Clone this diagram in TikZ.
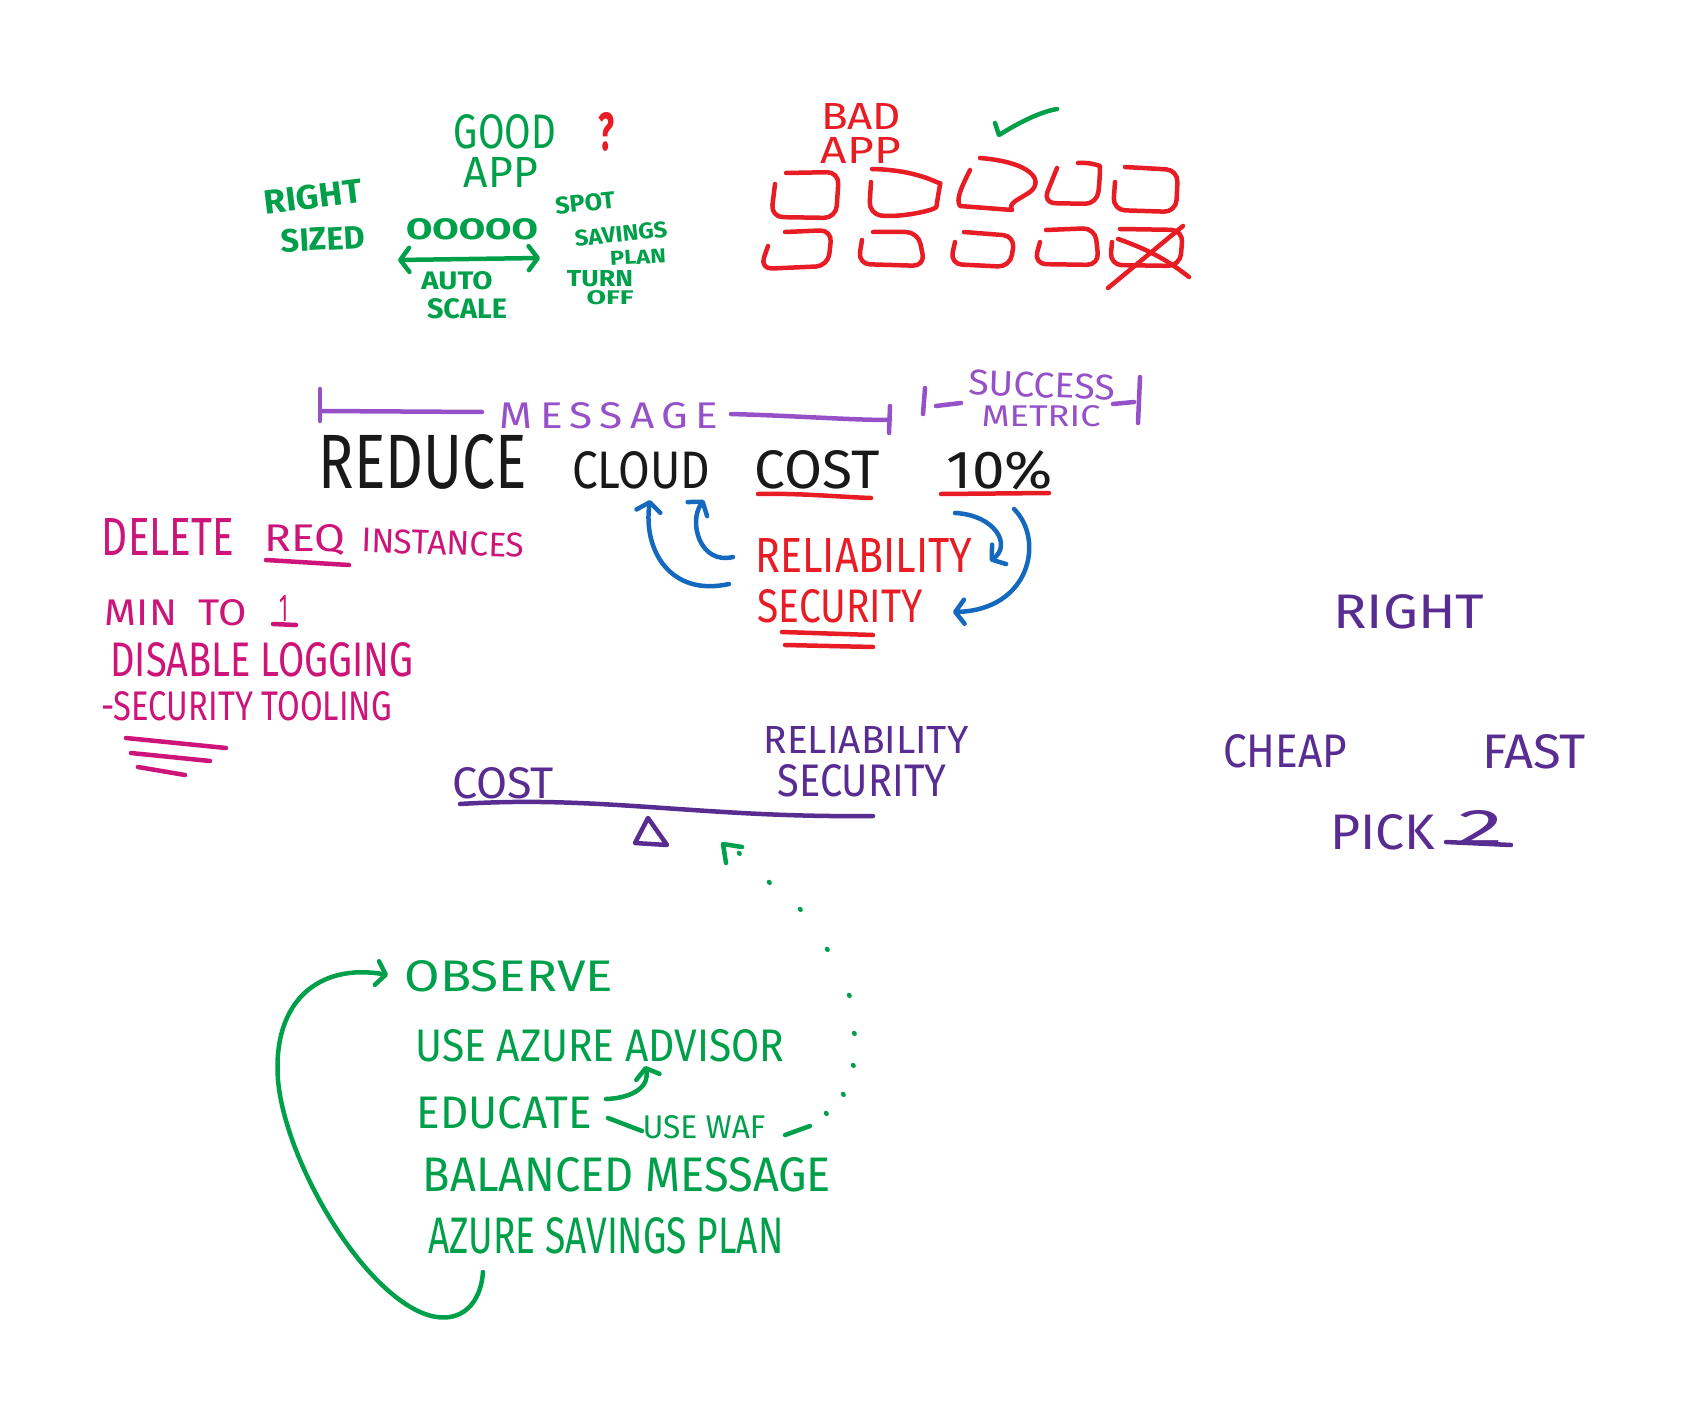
\documentclass[tikz,border=0pt]{standalone}
\usepackage{fontspec}
\setmainfont{Fira Sans}
\usepackage{graphicx}
\usetikzlibrary{arrows.meta}
\definecolor{mkgreen}{RGB}{0,160,75}
\definecolor{mkred}{RGB}{232,28,36}
\definecolor{mkviolet}{RGB}{150,80,200}
\definecolor{mkpurple}{RGB}{88,44,145}
\definecolor{mkmagenta}{RGB}{205,20,120}
\definecolor{mkblue}{RGB}{20,105,190}
\definecolor{mkblack}{RGB}{25,25,25}
\newcommand{\hw}[3]{\resizebox{#1pt}{#2pt}{#3}}
\tikzset{
  txt/.style={inner sep=0pt, outer sep=0pt},
  ink/.style={line width=4.5pt, line cap=round, line join=round},
  gink/.style={ink, draw=mkgreen},
  rink/.style={ink, draw=mkred},
  vink/.style={ink, draw=mkviolet},
  pink/.style={ink, draw=mkpurple},
  mink/.style={ink, draw=mkmagenta},
  bink/.style={ink, draw=mkblue},
  barbend/.style={-{Straight Barb[length=9pt,width=24pt,round]}},
  barbboth/.style={{Straight Barb[length=9pt,width=24pt,round]}-{Straight Barb[length=9pt,width=24pt,round]}},
  rbox/.style={rink, rounded corners=12pt}
}
\begin{document}
\begin{tikzpicture}[x=1pt,y=-1pt]
\useasboundingbox (0,0) rectangle (1686,1415);
\fill[white] (0,0) rectangle (1686,1415);

% ---------- Good app (green) ----------
\node[txt,text=mkgreen] (good) at (505,132) {\hw{102}{34}{GOOD}};
\node[txt,text=mkred] (qmark) at (606,132) {\hw{16}{38}{\bfseries ?}};
\node[txt,text=mkgreen] (goodapp) at (501,172) {\hw{74}{30}{APP}};
\node[txt,text=mkgreen,rotate=7] (right1) at (313,197) {\hw{98}{24}{\bfseries RIGHT}};
\node[txt,text=mkgreen,rotate=3] (sized) at (323,239) {\hw{84}{23}{\bfseries SIZED}};
\node[txt,text=mkgreen] (ovals) at (472,229) {\hw{132}{21}{\bfseries OOOOO}};
\coordinate (dl) at (398,260);
\coordinate (dr) at (540,258);
\draw[gink,barbboth] (dl) -- (dr);
\node[txt,text=mkgreen] (auto) at (457,281) {\hw{71}{18}{\bfseries AUTO}};
\node[txt,text=mkgreen] (scale) at (467,309) {\hw{80}{20}{\bfseries SCALE}};
\node[txt,text=mkgreen,rotate=6] (spot) at (585,203) {\hw{60}{17}{\bfseries SPOT}};
\node[txt,text=mkgreen,rotate=6] (savings) at (621,234) {\hw{93}{16}{\bfseries SAVINGS}};
\node[txt,text=mkgreen,rotate=3] (plan) at (638,257) {\hw{56}{14}{\bfseries PLAN}};
\node[txt,text=mkgreen] (turn) at (600,279) {\hw{66}{16}{\bfseries TURN}};
\node[txt,text=mkgreen] (off) at (610,298) {\hw{47}{14}{\bfseries OFF}};

% ---------- Bad app (red) ----------
\node[txt,text=mkred] (bad) at (861,116) {\hw{80}{26}{BAD}};
\node[txt,text=mkred] (badapp) at (861,150) {\hw{80}{26}{APP}};
\coordinate (chk1) at (995,123);
\coordinate (chk2) at (999,135);
\coordinate (chk3) at (1057,109);
\draw[gink] (chk1) -- (chk2) .. controls (1020,122) and (1040,112) .. (chk3);
% row 1
\draw[rbox] (786,173) -- (839,172) -- (836,218) -- (771,217) -- (775,184);
\draw[rbox] (872,169) .. controls (920,170) and (940,185) .. (938,195) .. controls (936,210) and (900,218) .. (869,214) -- (871,182);
\draw[ink,draw=mkred] (980,158) .. controls (1030,162) and (1045,180) .. (1030,192) .. controls (1018,200) and (1008,203) .. (1012,210) -- (960,206) .. controls (956,200) and (960,190) .. (970,170);
\draw[rbox] (1057,168) -- (1043,203) -- (1097,204) -- (1100,178) .. controls (1100,166) and (1090,162) .. (1078,163);
\draw[rbox] (1125,167) -- (1178,170) -- (1176,212) -- (1113,210) -- (1115,182);
% row 2
\draw[rbox] (785,232) -- (832,230) -- (828,266) -- (760,269) -- (768,246);
\draw[rbox] (873,232) -- (918,232) -- (925,266) -- (858,264) -- (862,240);
\draw[rbox] (964,232) -- (1015,236) -- (1010,267) -- (950,264) -- (955,242);
\draw[rbox] (1046,230) -- (1095,228) -- (1099,265) -- (1034,264) -- (1040,242);
\draw[rbox] (1120,229) -- (1183,230) -- (1180,266) -- (1110,265) -- (1112,242);
\coordinate (xa1) at (1108,288);
\coordinate (xa2) at (1183,226);
\coordinate (xb1) at (1118,239);
\coordinate (xb2) at (1189,277);
\draw[rink] (xa1) -- (xa2);
\draw[rink] (xb1) .. controls (1150,250) and (1170,262) .. (xb2);

% ---------- Message bracket (violet) ----------
\node[txt,text=mkviolet] (message) at (609,416) {\hw{218}{26}{M\,E\,S\,S\,A\,G\,E}};
\coordinate (ml1) at (320,389);
\coordinate (ml2) at (320,421);
\coordinate (mr1) at (890,406);
\coordinate (mr2) at (889,433);
\draw[vink] (ml1) -- (ml2);
\draw[vink] (320,411) -- (482,412);
\draw[vink] (731,414) .. controls (800,416) and (850,420) .. (890,420);
\draw[vink] (mr1) -- (mr2);
\node[txt,text=mkviolet,rotate=-2] (success) at (1042,385) {\hw{146}{25}{SUCCESS}};
\node[txt,text=mkviolet] (metric) at (1041,416) {\hw{119}{21}{METRIC}};
\draw[vink] (925,388) -- (923,414);
\draw[vink] (936,406) -- (961,403);
\draw[vink] (1113,404) -- (1134,402);
\draw[vink] (1140,377) -- (1138,423);

% ---------- Reduce cloud cost 10% (black) ----------
\node[txt,text=mkblack] (reduce) at (423,462) {\hw{208}{54}{REDUCE}};
\node[txt,text=mkblack] (cloud) at (641,470) {\hw{138}{37}{CLOUD}};
\node[txt,text=mkblack] (cost) at (817,470) {\hw{125}{38}{COST}};
\node[txt,text=mkblack] (pct) at (1000,470) {\hw{106}{38}{10\%}};
\draw[rink] (758,494) .. controls (800,493) and (840,497) .. (871,498);
\draw[rink] (941,494) -- (1049,493);

% ---------- Reliability / Security (red) with blue arrows ----------
\node[txt,text=mkred] (reli) at (864,555) {\hw{217}{34}{RELIABILITY}};
\node[txt,text=mkred] (secu) at (840,606) {\hw{165}{33}{SECURITY}};
\draw[rink] (782,632) -- (873,635);
\draw[rink] (785,645) -- (873,647);
\coordinate (ba1) at (729,584);
\coordinate (ba2) at (733,557);
\coordinate (ba3) at (955,513);
\coordinate (ba4) at (1014,509);
\draw[bink,barbend] (ba1) .. controls (670,597) and (643,550) .. (650,500);
\draw[bink,barbend] (ba2) .. controls (700,565) and (688,522) .. (704,500);
\draw[bink,barbend] (ba3) .. controls (995,515) and (1012,545) .. (990,561);
\draw[bink,barbend] (ba4) .. controls (1045,540) and (1030,610) .. (953,612);

% ---------- Left list (magenta) ----------
\node[txt,text=mkmagenta] (delete) at (168,537) {\hw{132}{37}{DELETE}};
\node[txt,text=mkmagenta] (req) at (305,540) {\hw{81}{27}{REQ}};
\draw[mink] (266,560) -- (349,565);
\node[txt,text=mkmagenta,rotate=-2] (instances) at (443,543) {\hw{163}{24}{INSTANCES}};
\node[txt,text=mkmagenta] (minto) at (176,613) {\hw{142}{26}{MIN\ \ TO}};
\node[txt,text=mkmagenta] (one) at (284,608) {\hw{9}{26}{1}};
\draw[mink] (273,624) -- (296,625);
\node[txt,text=mkmagenta] (disable) at (262,660) {\hw{303}{34}{DISABLE LOGGING}};
\node[txt,text=mkmagenta] (sectool) at (247,706) {\hw{290}{29}{-SECURITY TOOLING}};
\draw[mink] (126,738) -- (226,748);
\draw[mink] (131,753) -- (210,761);
\draw[mink] (138,767) -- (185,775);

% ---------- Balance (dark purple) ----------
\node[txt,text=mkpurple] (bcost) at (503,783) {\hw{102}{31}{COST}};
\node[txt,text=mkpurple] (breli) at (866,740) {\hw{205}{27}{RELIABILITY}};
\node[txt,text=mkpurple] (bsecu) at (862,781) {\hw{169}{32}{SECURITY}};
\coordinate (beam1) at (460,804);
\coordinate (beam2) at (873,816);
\draw[pink] (beam1) .. controls (600,795) and (700,818) .. (beam2);
\coordinate (pivot) at (648,818);
\draw[pink] (635,843) -- (pivot) -- (667,845) -- cycle;

% ---------- Right / cheap / fast (dark purple) ----------
\node[txt,text=mkpurple] (rright) at (1409,612) {\hw{151}{34}{RIGHT}};
\node[txt,text=mkpurple] (cheap) at (1285,751) {\hw{124}{33}{CHEAP}};
\node[txt,text=mkpurple] (fast) at (1534,752) {\hw{104}{34}{FAST}};
\node[txt,text=mkpurple] (pick) at (1383,832) {\hw{105}{35}{PICK}};
\node[txt,text=mkpurple] (two) at (1481,827) {\hw{45}{34}{2}};
\draw[pink] (1446,842) -- (1511,845);

% ---------- Observe loop (green) ----------
\node[txt,text=mkgreen] (observe) at (509,976) {\hw{208}{31}{OBSERVE}};
\node[txt,text=mkgreen] (advisor) at (600,1046) {\hw{369}{32}{USE AZURE ADVISOR}};
\node[txt,text=mkgreen] (educate) at (504,1113) {\hw{175}{32}{EDUCATE}};
\node[txt,text=mkgreen] (usewaf) at (704,1127) {\hw{123}{23}{USE WAF}};
\node[txt,text=mkgreen] (balanced) at (627,1175) {\hw{408}{34}{BALANCED MESSAGE}};
\node[txt,text=mkgreen] (savplan) at (606,1236) {\hw{355}{36}{AZURE SAVINGS PLAN}};
\coordinate (loopstart) at (483,1272);
\coordinate (looptip) at (388,975);
\draw[gink,barbend] (loopstart) .. controls (480,1310) and (455,1325) .. (425,1314)
   .. controls (360,1290) and (285,1160) .. (278,1080)
   .. controls (272,1000) and (320,963) .. (looptip);
\coordinate (ed1) at (606,1099);
\coordinate (ed2) at (645,1066);
\draw[gink,barbend] (ed1) .. controls (635,1098) and (650,1085) .. (ed2);
\coordinate (ew1) at (608,1118);
\coordinate (ew2) at (642,1131);
\draw[gink] (ew1) -- (ew2);
% dotted feedback from the list to the balance
\coordinate (dash1) at (785,1135);
\coordinate (dash2) at (810,1126);
\draw[gink] (dash1) -- (dash2);
\foreach \p in {(826,1113),(843,1094),(853,1065),(854,1033),(849,995),(827,949),(800,909),(769,882),(739,853)}
  \draw[gink] \p -- ++(0.6,0.8);
\coordinate (dtip) at (723,844);
\draw[gink] (726,863) -- (dtip) -- (742,847);
\end{tikzpicture}
\end{document}
